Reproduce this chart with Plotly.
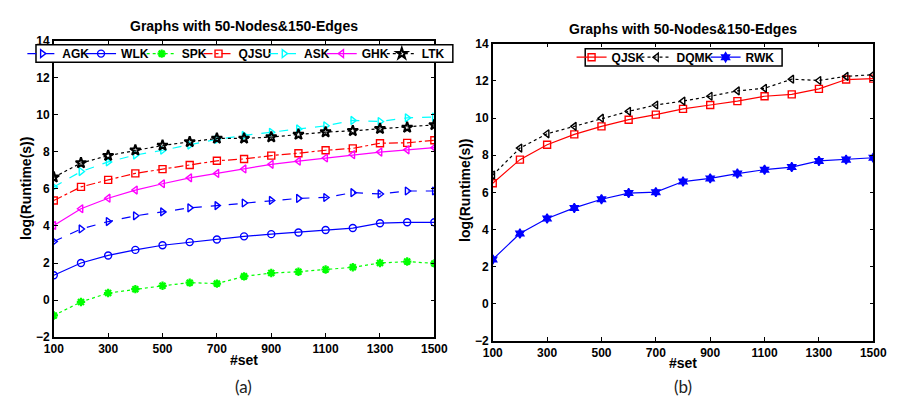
import plotly.graph_objects as go

x_sets = [100, 200, 300, 400, 500, 600, 700, 800, 900, 1000, 1100, 1200, 1300, 1400, 1500]

# Left panel (a)
agk = [3.16, 3.84, 4.24, 4.55, 4.76, 4.98, 5.10, 5.24, 5.38, 5.49, 5.54, 5.80, 5.73, 5.89, 5.89]
wlk = [1.34, 2.00, 2.41, 2.71, 2.96, 3.13, 3.27, 3.44, 3.56, 3.65, 3.78, 3.89, 4.15, 4.20, 4.20]
spk = [-0.83, -0.10, 0.38, 0.59, 0.77, 0.94, 0.89, 1.28, 1.46, 1.53, 1.65, 1.77, 2.00, 2.08, 1.98]
qjsu = [5.38, 6.11, 6.49, 6.84, 7.07, 7.29, 7.52, 7.62, 7.80, 7.93, 8.09, 8.19, 8.47, 8.49, 8.63]
ask = [6.11, 6.94, 7.46, 7.83, 8.09, 8.37, 8.68, 8.89, 9.06, 9.24, 9.41, 9.70, 9.64, 9.84, 9.88]
ghk = [4.03, 4.93, 5.50, 5.94, 6.28, 6.60, 6.84, 7.08, 7.33, 7.50, 7.67, 7.85, 7.99, 8.11, 8.23]
ltk = [6.63, 7.40, 7.80, 8.09, 8.35, 8.54, 8.73, 8.73, 8.80, 8.94, 9.07, 9.14, 9.25, 9.32, 9.46]

# Right panel (b)
qjsk = [6.49, 7.76, 8.56, 9.12, 9.55, 9.91, 10.18, 10.49, 10.70, 10.91, 11.17, 11.27, 11.57, 12.07, 12.12]
dqmk = [6.93, 8.38, 9.15, 9.55, 9.99, 10.36, 10.70, 10.91, 11.17, 11.46, 11.60, 12.09, 12.02, 12.24, 12.33]
rwk = [2.39, 3.78, 4.59, 5.16, 5.63, 5.96, 6.01, 6.58, 6.75, 7.01, 7.22, 7.36, 7.69, 7.76, 7.86]

x_ticks = [100, 300, 500, 700, 900, 1100, 1300, 1500]
y_ticks = [-2, 0, 2, 4, 6, 8, 10, 12, 14]

title_text = "Graphs with 50-Nodes&150-Edges"
FONT = "Liberation Sans, Arial, sans-serif"
W, H = 898, 403

fig = go.Figure()

# (name, values, colour, dash, symbol, marker size, marker line width, panel, legend text x, legend centre y)
series = [
    ("AGK", agk, "#0000ff", "dash", "triangle-right-open", 7, 1.4, 1, 60.7, 48.3),
    ("WLK", wlk, "#0000ff", "solid", "circle-open", 7, 1.4, 1, 121, 48.3),
    ("SPK", spk, "#00ff00", "dot", "asterisk-open", 7, 2.2, 1, 183.3, 48.3),
    ("QJSU", qjsu, "#ff0000", "dashdot", "square-open", 7, 1.4, 1, 241.7, 48.3),
    ("ASK", ask, "#00ffff", "dash", "triangle-right-open", 7, 1.4, 1, 309, 48.3),
    ("GHK", ghk, "#ff00ff", "solid", "triangle-left-open", 7, 1.4, 1, 368.3, 48.3),
    ("LTK", ltk, "#000000", "dot", "star-open", 8, 2.0, 1, 430, 48.3),
    ("QJSK", qjsk, "#ff0000", "solid", "square-open", 7, 1.4, 2, 625, 52),
    ("DQMK", dqmk, "#000000", "dot", "triangle-left-open", 7, 1.4, 2, 691.7, 52),
    ("RWK", rwk, "#0000ff", "solid", "hexagram", 7, 1.4, 2, 762.7, 52),
]

legend_font = dict(family=FONT, size=12, color="black", weight="bold")
legends = {}
for i, (name, vals, color, dash, sym, ms, mlw, panel, tx, ty) in enumerate(series):
    lname = "legend" if i == 0 else f"legend{i + 1}"
    xa, ya = ("x", "y") if panel == 1 else ("x2", "y2")
    fig.add_trace(go.Scatter(
        x=x_sets, y=vals, name=name, mode="lines+markers",
        line=dict(color=color, dash=dash, width=1.2),
        marker=dict(symbol=sym, size=ms, color=color, line=dict(color=color, width=mlw)),
        xaxis=xa, yaxis=ya, legend=lname))
    legends[lname] = dict(
        orientation="h", x=(tx - 48) / W, y=1 - ty / H, xanchor="left", yanchor="middle",
        bgcolor="rgba(0,0,0,0)", borderwidth=0, font=legend_font, itemwidth=30)


def xd(a, b):
    return [a / W, b / W]


def yd(top, bottom):
    return [1 - bottom / H, 1 - top / H]


axis_common = dict(
    showline=True, linecolor="black", linewidth=1.5, mirror="ticks",
    ticks="inside", ticklen=4, tickwidth=1, tickcolor="black",
    showgrid=False, zeroline=False,
    tickfont=dict(family=FONT, size=12, color="black", weight="bold"),
)

fig.update_layout(
    width=W, height=H,
    margin=dict(l=0, r=0, t=0, b=0),
    paper_bgcolor="white", plot_bgcolor="white",
    font=dict(family=FONT, color="black"),
    xaxis=dict(domain=xd(45, 436), range=[100, 1500], tickvals=x_ticks, anchor="y", **axis_common),
    yaxis=dict(domain=yd(35, 342), range=[-2, 14], tickvals=y_ticks, anchor="x", **axis_common),
    xaxis2=dict(domain=xd(496, 887), range=[100, 1500], tickvals=x_ticks, anchor="y2", **axis_common),
    yaxis2=dict(domain=yd(38, 346), range=[-2, 14], tickvals=y_ticks, anchor="x2", **axis_common),
    showlegend=True,
    **legends,
)

# legend frames
shapes = []
for x0, x1, y0, y1 in [(26.7, 455, 39, 57.3), (591, 793.3, 43.3, 61)]:
    shapes.append(dict(type="rect", xref="paper", yref="paper",
                       x0=x0 / W, x1=x1 / W, y0=1 - y1 / H, y1=1 - y0 / H,
                       line=dict(color="black", width=1.5), fillcolor="white", layer="above"))
fig.update_layout(shapes=shapes)

ann = []
for cx, ty, xy, lab in [(240, 20, 366, "(a)"), (691, 23, 369, "(b)")]:
    ann.append(dict(text=title_text, x=cx / W, y=1 - ty / H, xref="paper", yref="paper",
                    showarrow=False, xanchor="center", yanchor="middle",
                    font=dict(family=FONT, size=14, color="black", weight="bold")))
    ann.append(dict(text="#set", x=cx / W, y=1 - xy / H, xref="paper", yref="paper",
                    showarrow=False, xanchor="center", yanchor="middle",
                    font=dict(family=FONT, size=14, color="black", weight="bold")))
    ann.append(dict(text=lab, x=cx / W, y=1 - 393 / H, xref="paper", yref="paper",
                    showarrow=False, xanchor="center", yanchor="middle",
                    font=dict(family="Lato, Open Sans, sans-serif", size=17, color="#222")))
for lx, ly in [(17, 188), (468, 190)]:
    ann.append(dict(text="log(Runtime(s))", x=lx / W, y=1 - ly / H, xref="paper", yref="paper",
                    showarrow=False, xanchor="center", yanchor="middle", textangle=-90,
                    font=dict(family=FONT, size=14, color="black", weight="bold")))
fig.update_layout(annotations=ann)

fig.write_html("out.html")
